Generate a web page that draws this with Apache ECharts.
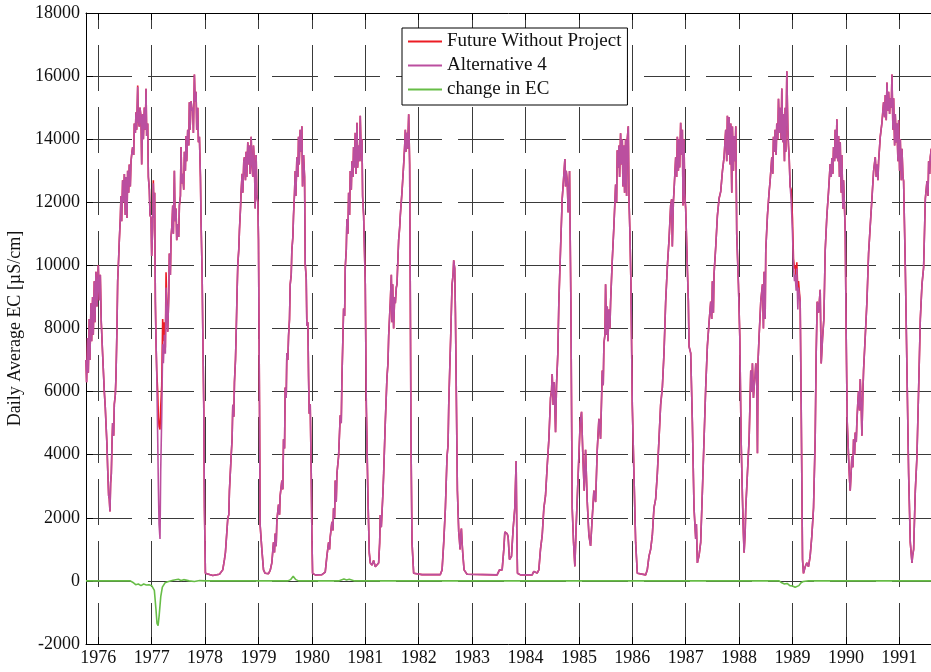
<!DOCTYPE html>
<html><head><meta charset="utf-8">
<script src="https://cdn.jsdelivr.net/npm/echarts@6/dist/echarts.min.js"></script>
<style>html,body{margin:0;padding:0;background:#fff}#c{width:931px;height:672px}</style>
</head><body><div id="c"></div>
<script>
const yearTicks = [1976,1977,1978,1979,1980,1981,1982,1983,1984,1985,1986,1987,1988,1989,1990,1991];
const seriesNames = ['Future Without Project','Alternative 4','change in EC'];
const yLabel = 'Daily Average EC [µS/cm]';

const t = [
1975.769,1975.781,1975.800,1975.813,1975.831,1975.844,1975.863,1975.875,1975.894,1975.906,
1975.925,1975.938,1975.956,1975.975,1976.000,1976.019,1976.038,1976.056,1976.081,1976.113,
1976.131,1976.144,1976.163,1976.175,1976.194,1976.206,1976.219,1976.231,1976.244,1976.256,
1976.269,1976.288,1976.300,1976.319,1976.331,1976.350,1976.363,1976.381,1976.394,1976.413,
1976.425,1976.438,1976.456,1976.475,1976.488,1976.506,1976.519,1976.538,1976.550,1976.569,
1976.581,1976.600,1976.613,1976.631,1976.644,1976.663,1976.675,1976.694,1976.706,1976.719,
1976.738,1976.750,1976.769,1976.781,1976.800,1976.813,1976.831,1976.844,1976.863,1976.881,
1976.894,1976.906,1976.925,1976.938,1976.956,1976.969,1976.988,1977.000,1977.019,1977.031,
1977.044,1977.056,1977.069,1977.081,1977.094,1977.113,1977.125,1977.138,1977.156,1977.169,
1977.188,1977.206,1977.219,1977.238,1977.256,1977.269,1977.288,1977.300,1977.319,1977.331,
1977.350,1977.363,1977.381,1977.394,1977.406,1977.425,1977.438,1977.456,1977.469,1977.488,
1977.506,1977.519,1977.538,1977.550,1977.563,1977.581,1977.600,1977.613,1977.631,1977.644,
1977.656,1977.675,1977.694,1977.706,1977.719,1977.738,1977.756,1977.769,1977.781,1977.800,
1977.813,1977.831,1977.844,1977.863,1977.875,1977.894,1977.913,1977.925,1977.944,1977.956,
1977.975,1977.988,1978.006,1978.050,1978.144,1978.269,1978.331,1978.363,1978.381,1978.394,
1978.425,1978.444,1978.456,1978.488,1978.506,1978.519,1978.538,1978.550,1978.569,1978.581,
1978.600,1978.613,1978.631,1978.644,1978.663,1978.675,1978.694,1978.706,1978.725,1978.738,
1978.756,1978.769,1978.781,1978.800,1978.813,1978.831,1978.844,1978.863,1978.875,1978.894,
1978.906,1978.925,1978.938,1978.956,1978.969,1978.988,1979.000,1979.019,1979.031,1979.063,
1979.094,1979.125,1979.188,1979.219,1979.250,1979.281,1979.300,1979.313,1979.331,1979.344,
1979.375,1979.394,1979.406,1979.438,1979.456,1979.469,1979.488,1979.500,1979.519,1979.531,
1979.550,1979.563,1979.581,1979.594,1979.613,1979.625,1979.644,1979.656,1979.675,1979.688,
1979.700,1979.719,1979.738,1979.750,1979.763,1979.781,1979.800,1979.813,1979.825,1979.844,
1979.863,1979.875,1979.894,1979.906,1979.925,1979.938,1979.950,1979.969,1979.988,1980.000,
1980.013,1980.063,1980.188,1980.250,1980.281,1980.313,1980.331,1980.344,1980.375,1980.394,
1980.406,1980.425,1980.438,1980.456,1980.469,1980.500,1980.531,1980.550,1980.563,1980.594,
1980.613,1980.625,1980.644,1980.656,1980.675,1980.688,1980.706,1980.719,1980.738,1980.750,
1980.769,1980.781,1980.794,1980.813,1980.825,1980.844,1980.856,1980.875,1980.888,1980.906,
1980.925,1980.938,1980.950,1980.969,1981.000,1981.019,1981.050,1981.075,1981.094,1981.125,
1981.156,1981.188,1981.219,1981.250,1981.269,1981.281,1981.300,1981.313,1981.331,1981.344,
1981.375,1981.406,1981.425,1981.438,1981.456,1981.469,1981.488,1981.500,1981.513,1981.531,
1981.550,1981.563,1981.581,1981.594,1981.613,1981.625,1981.644,1981.656,1981.688,1981.719,
1981.738,1981.750,1981.763,1981.781,1981.794,1981.813,1981.831,1981.844,1981.856,1981.875,
1981.906,1981.938,1982.063,1982.406,1982.438,1982.469,1982.500,1982.531,1982.550,1982.563,
1982.581,1982.600,1982.625,1982.644,1982.656,1982.675,1982.688,1982.700,1982.725,1982.750,
1982.763,1982.775,1982.788,1982.800,1982.813,1982.825,1982.850,1982.906,1983.469,1983.513,
1983.563,1983.594,1983.613,1983.656,1983.675,1983.700,1983.738,1983.769,1983.800,1983.825,
1983.838,1983.850,1983.906,1984.125,1984.156,1984.188,1984.219,1984.250,1984.281,1984.313,
1984.344,1984.375,1984.406,1984.438,1984.469,1984.488,1984.500,1984.519,1984.538,1984.563,
1984.581,1984.606,1984.625,1984.656,1984.688,1984.719,1984.738,1984.750,1984.763,1984.781,
1984.800,1984.825,1984.850,1984.875,1984.900,1984.925,1984.950,1984.975,1985.000,1985.025,
1985.050,1985.075,1985.100,1985.125,1985.156,1985.188,1985.219,1985.250,1985.281,1985.313,
1985.344,1985.375,1985.406,1985.438,1985.456,1985.469,1985.488,1985.500,1985.519,1985.531,
1985.544,1985.563,1985.581,1985.594,1985.625,1985.656,1985.688,1985.706,1985.719,1985.738,
1985.750,1985.763,1985.781,1985.794,1985.813,1985.825,1985.844,1985.856,1985.875,1985.894,
1985.906,1985.925,1985.938,1985.956,1985.975,1986.000,1986.031,1986.063,1986.094,1986.250,
1986.281,1986.313,1986.344,1986.375,1986.406,1986.438,1986.469,1986.500,1986.531,1986.563,
1986.594,1986.625,1986.656,1986.688,1986.719,1986.738,1986.750,1986.769,1986.781,1986.813,
1986.831,1986.844,1986.863,1986.875,1986.888,1986.906,1986.925,1986.938,1986.950,1986.969,
1986.981,1987.000,1987.031,1987.050,1987.063,1987.094,1987.125,1987.156,1987.188,1987.200,
1987.219,1987.250,1987.281,1987.313,1987.344,1987.375,1987.406,1987.438,1987.469,1987.488,
1987.500,1987.519,1987.531,1987.563,1987.594,1987.625,1987.656,1987.688,1987.719,1987.750,
1987.769,1987.781,1987.800,1987.813,1987.831,1987.844,1987.863,1987.875,1987.894,1987.906,
1987.925,1987.938,1987.956,1987.969,1987.988,1988.013,1988.038,1988.063,1988.081,1988.094,
1988.113,1988.125,1988.156,1988.188,1988.219,1988.238,1988.250,1988.269,1988.281,1988.300,
1988.313,1988.331,1988.344,1988.356,1988.375,1988.406,1988.438,1988.456,1988.469,1988.488,
1988.500,1988.531,1988.563,1988.581,1988.613,1988.631,1988.644,1988.663,1988.675,1988.694,
1988.706,1988.725,1988.738,1988.756,1988.769,1988.788,1988.800,1988.819,1988.831,1988.850,
1988.863,1988.875,1988.894,1988.913,1988.925,1988.938,1988.956,1988.975,1989.000,1989.019,
1989.038,1989.050,1989.069,1989.081,1989.100,1989.113,1989.144,1989.163,1989.188,1989.206,
1989.238,1989.269,1989.300,1989.331,1989.363,1989.394,1989.425,1989.444,1989.463,1989.488,
1989.519,1989.538,1989.563,1989.588,1989.613,1989.644,1989.675,1989.706,1989.725,1989.738,
1989.756,1989.769,1989.788,1989.800,1989.819,1989.831,1989.850,1989.863,1989.881,1989.894,
1989.913,1989.925,1989.944,1989.956,1989.975,1989.988,1990.006,1990.025,1990.050,1990.069,
1990.081,1990.100,1990.113,1990.131,1990.144,1990.163,1990.175,1990.194,1990.206,1990.225,
1990.238,1990.256,1990.269,1990.288,1990.300,1990.319,1990.331,1990.363,1990.394,1990.425,
1990.456,1990.488,1990.519,1990.550,1990.569,1990.581,1990.600,1990.613,1990.644,1990.675,
1990.706,1990.725,1990.738,1990.756,1990.769,1990.788,1990.800,1990.819,1990.831,1990.850,
1990.863,1990.881,1990.894,1990.913,1990.925,1990.944,1990.956,1990.975,1990.988,1991.006,
1991.019,1991.038,1991.050,1991.069,1991.081,1991.113,1991.144,1991.175,1991.206,1991.238,
1991.250,1991.269,1991.300,1991.331,1991.363,1991.394,1991.425,1991.456,1991.488,1991.519,
1991.538,1991.550,1991.569,1991.581,1991.600
];

const alt4 = [
7000,6300,7700,6600,8300,7000,8800,7600,9000,7800,
9500,8200,9800,8700,10000,8900,9700,8200,7200,6000,
5500,5000,4300,3600,2700,2600,2200,3100,3400,4300,
5000,4600,5600,5900,6450,8000,9500,10200,10800,11500,
12200,11400,12700,12000,12900,11600,12800,11500,13000,12300,
13200,12500,13300,13600,13750,13500,14500,14200,14850,14300,
15660,14600,14400,15000,14700,13200,14800,14000,15000,14300,
15600,14100,14500,12800,12400,11600,11500,10300,11200,12600,
11500,12300,8850,7600,6670,4500,3000,1800,1330,3500,
5200,7500,6900,7800,7200,9300,8500,7900,9000,10380,
9700,10900,11300,11900,11000,13000,11400,11800,10800,11300,
10900,11900,12200,13750,12600,12900,12400,13600,13000,14100,
13300,14300,13800,15170,14300,15200,14900,15000,14200,16050,
15200,15500,14300,15000,13900,14080,12800,11360,9800,8090,
5580,2310,240,220,170,210,350,680,900,1220,
1980,2100,2860,3950,4500,5580,5200,6300,7000,7760,
9200,10050,10500,11140,11800,12340,12900,12300,13300,13430,
12700,13600,12800,13900,13200,13800,12900,14080,13300,12800,
13800,13200,11800,13500,12200,12000,10800,5580,1770,1000,
350,240,230,330,570,1220,900,1500,1100,1900,
2420,2100,2700,3180,2900,4490,4200,6130,5800,7220,
7000,7760,8300,9400,9700,10490,10900,11580,12300,12990,
12200,13430,12800,14080,13200,14300,13600,14410,12500,13500,
12800,10050,9600,8090,8200,6450,5300,5600,3400,1500,
240,190,200,280,785,1220,1000,1400,1870,1600,
2300,2000,3180,2500,3400,3950,5250,5000,6450,8630,
8400,9940,10500,11470,11000,12300,11600,12990,12400,13300,
12800,13750,13100,14200,12900,14520,13100,13800,13300,14740,
13300,14000,12200,11580,9400,5580,2640,890,570,500,
650,450,500,570,1200,2090,1700,1750,2800,3400,
5040,6450,6900,7760,8400,8850,9700,8200,9400,8000,
9000,8800,9300,9400,10300,10810,11200,11580,12340,13210,
13800,14300,13600,14200,13700,14790,13200,8850,4490,1220,
240,190,200,200,350,1220,2310,3950,4300,5580,
6670,7760,9400,9700,10160,9900,8500,6670,2860,1550,
1300,1000,1500,1660,1200,890,350,210,190,350,
350,1000,1550,1500,1400,680,780,1660,2310,3800,
1500,240,190,190,300,350,250,350,1000,1440,
2310,2700,3620,4490,5800,6020,6560,5580,6300,4710,
6200,7220,8850,10490,12120,12880,13370,12500,13000,12700,
11680,12990,8850,2310,1220,460,1770,2860,3950,5040,
5360,3950,2860,4160,2530,1440,1110,2000,2860,2500,
4160,5140,4500,6670,6200,7540,7800,9400,7800,8700,
7600,8600,8000,8850,10160,11250,12560,12000,13650,13100,
13800,12800,14190,13200,14000,12500,13800,12300,14000,12200,
14000,14410,12120,11030,9400,5580,3400,1220,240,190,
350,785,1000,1440,2310,2600,3400,4490,5580,6130,
7220,8850,9940,10810,11900,12100,10600,12000,12340,13430,
12800,14080,13000,14000,13100,14520,13500,14300,11900,14000,
12300,11800,9940,8850,7430,7220,5040,2310,1330,1800,
570,800,1220,2860,4490,6130,7440,8200,8850,8300,
9500,8500,9720,10600,11580,12120,12340,12990,13430,14300,
13300,14740,13500,14700,13200,14500,12300,14400,13000,14100,
13300,14410,11000,11030,9400,7760,4490,2640,1500,890,
1500,2300,3400,4490,6670,6000,6900,5800,6130,6500,
6900,6400,4050,7000,7760,8850,9400,8000,9800,8300,
10490,11580,12340,12670,13430,12900,14080,13600,14300,13500,
14500,14000,15280,14200,15000,14000,15610,13900,14800,13300,
15000,13600,16150,14300,13800,13430,12500,12100,11030,9940,
9500,9700,9200,9900,8600,9300,8850,5580,680,240,
450,570,450,785,1440,2310,4490,7220,8850,8500,
9230,6890,7700,8300,10490,11580,12340,13210,12800,13400,
12900,13750,13300,14300,13400,14630,13300,14100,12800,13900,
12300,13500,11800,12700,11800,11030,7760,5040,3950,3200,
2860,3500,3950,3600,4490,4000,4700,4400,5040,5700,
6020,5400,6400,5500,4600,6000,6670,7760,8850,10380,
11250,12120,12990,13430,12800,13200,12700,13300,14080,14520,
15170,14700,15400,14600,15800,14900,15500,14800,15300,15000,
16050,14300,15300,13800,14800,13900,14500,13300,14600,13000,
14000,12700,13700,12800,12670,9940,6670,3400,1220,570,
800,1000,2860,3950,6130,8300,9400,9940,12120,12670,
12200,13300,12900,13430,13700
];

const fwp = [
7000,6300,7700,6600,8300,7000,8800,7600,9000,7800,
9500,8200,9800,8700,10000,8900,9700,8200,7200,6000,
5500,5000,4300,3600,2700,2600,2200,3100,3400,4300,
5000,4600,5600,5900,6450,8000,9500,10200,10800,11500,
12200,11400,12700,12000,12900,11600,12800,11500,13000,12300,
13200,12500,13300,13600,13750,13500,14500,14200,14850,14300,
15700,14600,14400,15000,14700,13200,14800,14000,15000,14300,
15600,14100,14500,12800,12400,11600,11500,10300,11200,12700,
11500,12300,8850,7600,6670,6000,5200,4900,4800,5500,
6200,8300,7600,8200,7400,9780,8600,7900,9000,10380,
9700,10900,11300,11900,11000,13000,11400,11800,10800,11300,
10900,11900,12200,13750,12600,12900,12400,13600,13000,14100,
13300,14300,13800,15170,14300,15200,14900,15000,14200,16050,
15200,15500,14300,15000,13900,14080,12800,11360,9800,8090,
5580,2310,240,220,170,210,350,680,900,1220,
1980,2100,2860,3950,4500,5580,5200,6300,7000,7760,
9200,10050,10500,11140,11800,12340,12900,12300,13300,13430,
12700,13600,12800,13900,13200,13800,12900,14080,13300,12800,
13800,13200,11800,13500,12200,12000,10800,5580,1770,1000,
350,240,230,330,570,1220,900,1500,1100,1900,
2420,2100,2700,3180,2900,4490,4200,6130,5800,7220,
7000,7760,8300,9400,9700,10490,10900,11580,12300,12990,
12200,13430,12800,14080,13200,14300,13600,14410,12500,13500,
12800,10050,9600,8090,8200,6450,5300,5600,3400,1500,
240,190,200,280,785,1220,1000,1400,1870,1600,
2300,2000,3180,2500,3400,3950,5250,5000,6450,8630,
8400,9940,10500,11470,11000,12300,11600,12990,12400,13300,
12800,13750,13100,14200,12900,14520,13100,13800,13300,14740,
13300,14000,12200,11580,9400,5580,2640,890,570,500,
650,450,500,570,1200,2090,1700,1750,2800,3400,
5040,6450,6900,7760,8400,8850,9700,8200,9400,8000,
9000,8800,9300,9400,10300,10810,11200,11580,12340,13210,
13800,14300,13600,14200,13700,14790,13200,8850,4490,1220,
240,190,200,200,350,1220,2310,3950,4300,5580,
6670,7760,9400,9700,10160,9900,8500,6670,2860,1550,
1300,1000,1500,1660,1200,890,350,210,190,350,
350,1000,1550,1500,1400,680,780,1660,2310,3800,
1500,240,190,190,300,350,250,350,1000,1440,
2310,2700,3620,4490,5800,6020,6560,5580,6300,4710,
6200,7220,8850,10490,12120,12880,13370,12500,13000,12700,
11680,12990,8850,2310,1220,460,1770,2860,3950,5040,
5360,3950,2860,4160,2530,1440,1110,2000,2860,2500,
4160,5140,4500,6670,6200,7540,7800,9400,7800,8700,
7600,8600,8000,8850,10160,11250,12560,12000,13650,13100,
13800,12800,14190,13200,14000,12500,13800,12300,14000,12200,
14000,14410,12120,11030,9400,5580,3400,1220,240,190,
350,785,1000,1440,2310,2600,3400,4490,5580,6130,
7220,8850,9940,10810,11900,12100,10600,12000,12340,13430,
12800,14080,13000,14000,13100,14520,13500,14300,11900,14000,
12300,11800,9940,8850,7430,7220,5040,2310,1330,1800,
570,800,1220,2860,4490,6130,7440,8200,8850,8300,
9500,8500,9720,10600,11580,12120,12340,12990,13430,14300,
13300,14740,13500,14700,13200,14500,12300,14400,13000,14100,
13300,14410,11000,11030,9400,7760,4490,2640,1500,890,
1500,2300,3400,4490,6670,6000,6900,5800,6130,6500,
6900,6400,4050,7000,7760,8850,9400,8000,9800,8300,
10490,11580,12340,12670,13430,12900,14080,13600,14300,13500,
14500,14000,15280,14200,15000,14000,15610,13900,14800,13300,
15000,13600,16150,14300,13800,13430,12500,12400,11500,10200,
9900,10000,9600,10100,9200,9500,8850,5580,680,240,
450,570,450,785,1440,2310,4490,7220,8850,8500,
9230,6890,7700,8300,10490,11580,12340,13210,12800,13400,
12900,13750,13300,14300,13400,14630,13300,14100,12800,13900,
12300,13500,11800,12700,11800,11030,7760,5040,3950,3200,
2860,3500,3950,3600,4490,4000,4700,4400,5040,5700,
6020,5400,6400,5500,4600,6000,6670,7760,8850,10380,
11250,12120,12990,13430,12800,13200,12700,13300,14080,14520,
15170,14700,15400,14600,15800,14900,15500,14800,15300,15000,
16050,14300,15300,13800,14800,13900,14500,13300,14600,13000,
14000,12700,13700,12800,12670,9940,6670,3400,1220,570,
800,1000,2860,3950,6130,8300,9400,9940,12120,12670,
12200,13300,12900,13430,13700
];

const tChange = [1975.769,1976.600,1976.650,1976.700,1976.750,1976.800,1976.850,1976.900,1976.950,1977.000,
1977.050,1977.080,1977.100,1977.120,1977.140,1977.170,1977.200,1977.250,1977.300,1977.400,
1977.500,1977.550,1977.600,1977.700,1977.800,1977.900,1978.000,1979.550,1979.600,1979.650,
1979.700,1979.750,1980.500,1980.600,1980.650,1980.700,1980.800,1984.750,1984.760,1984.770,
1988.750,1988.800,1988.850,1988.900,1988.950,1989.000,1989.050,1989.080,1989.120,1989.160,
1989.200,1989.300,1991.600];
const change = [0,0,-50,-120,-100,-150,-100,-130,-120,-150,
-300,-900,-1350,-1420,-1100,-500,-200,-60,-30,20,
50,10,40,0,-20,10,0,0,40,150,
40,0,0,60,30,50,0,0,-60,0,
0,-60,-100,-80,-150,-160,-200,-230,-150,-60,
-20,0,0];

const zip = (xs, ys) => xs.map((x, i) => [x, ys[i]]);
const FONT = '"Liberation Serif", "Times New Roman", serif';
const RED = '#ec1c24', PURPLE = '#bb4f9f', GREEN = '#67bd47';
const gridStyle = {color: '#3a3a3a', width: 1, type: [46, 16]};

const chart = echarts.init(document.getElementById('c'), null, {renderer: 'canvas'});
chart.setOption({
  animation: false,
  backgroundColor: '#fff',
  grid: {left: 86, right: 0, top: 13, bottom: 28, containLabel: false, outerBoundsMode: 'none'},
  legend: {
    data: seriesNames, orient: 'vertical', left: 402, top: 28,
    icon: 'rect', itemWidth: 34, itemHeight: 2, itemGap: 5,
    padding: [4, 6, 6, 6], borderColor: '#000', borderWidth: 1, backgroundColor: '#fff',
    textStyle: {fontFamily: FONT, fontSize: 19, color: '#111', lineHeight: 19},
    selectedMode: false
  },
  xAxis: [{
    type: 'value', min: 1975.77, max: 1991.594, position: 'bottom',
    axisLine: {show: true, onZero: false, lineStyle: {color: '#000', width: 1}},
    axisTick: {show: true, inside: true, length: 7, customValues: yearTicks, lineStyle: {color: '#000'}},
    axisLabel: {customValues: yearTicks, formatter: v => String(v), fontFamily: FONT, fontSize: 18, color: '#111', margin: 5},
    splitLine: {show: true, lineStyle: Object.assign({}, gridStyle, {dashOffset: 30})}
  }, {
    type: 'value', min: 1975.77, max: 1991.594, position: 'top',
    axisLine: {show: true, onZero: false, lineStyle: {color: '#000', width: 1}},
    axisTick: {show: true, inside: true, length: 7, customValues: yearTicks, lineStyle: {color: '#000'}},
    axisLabel: {show: false},
    splitLine: {show: false}
  }],
  yAxis: {
    type: 'value', min: -2000, max: 18000, interval: 2000,
    name: yLabel, nameLocation: 'middle', nameGap: 58, nameRotate: 90,
    nameTextStyle: {fontFamily: FONT, fontSize: 18, color: '#111'},
    axisLine: {show: true, onZero: false, lineStyle: {color: '#000', width: 1}},
    axisTick: {show: true, inside: true, length: 7, lineStyle: {color: '#000'}},
    axisLabel: {formatter: v => String(v), fontFamily: FONT, fontSize: 18, color: '#111', margin: 6},
    splitLine: {show: true, lineStyle: gridStyle}
  },
  series: [
    {name: seriesNames[0], type: 'line', data: zip(t, fwp), showSymbol: false, symbol: 'none', silent: true,
     color: RED, lineStyle: {color: RED, width: 1.6}, z: 2},
    {name: seriesNames[1], type: 'line', data: zip(t, alt4), showSymbol: false, symbol: 'none', silent: true,
     color: PURPLE, lineStyle: {color: PURPLE, width: 1.6}, z: 3},
    {name: seriesNames[2], type: 'line', data: zip(tChange, change), showSymbol: false, symbol: 'none', silent: true,
     color: GREEN, lineStyle: {color: GREEN, width: 1.6}, z: 4}
  ]
});
</script>
</body></html>
